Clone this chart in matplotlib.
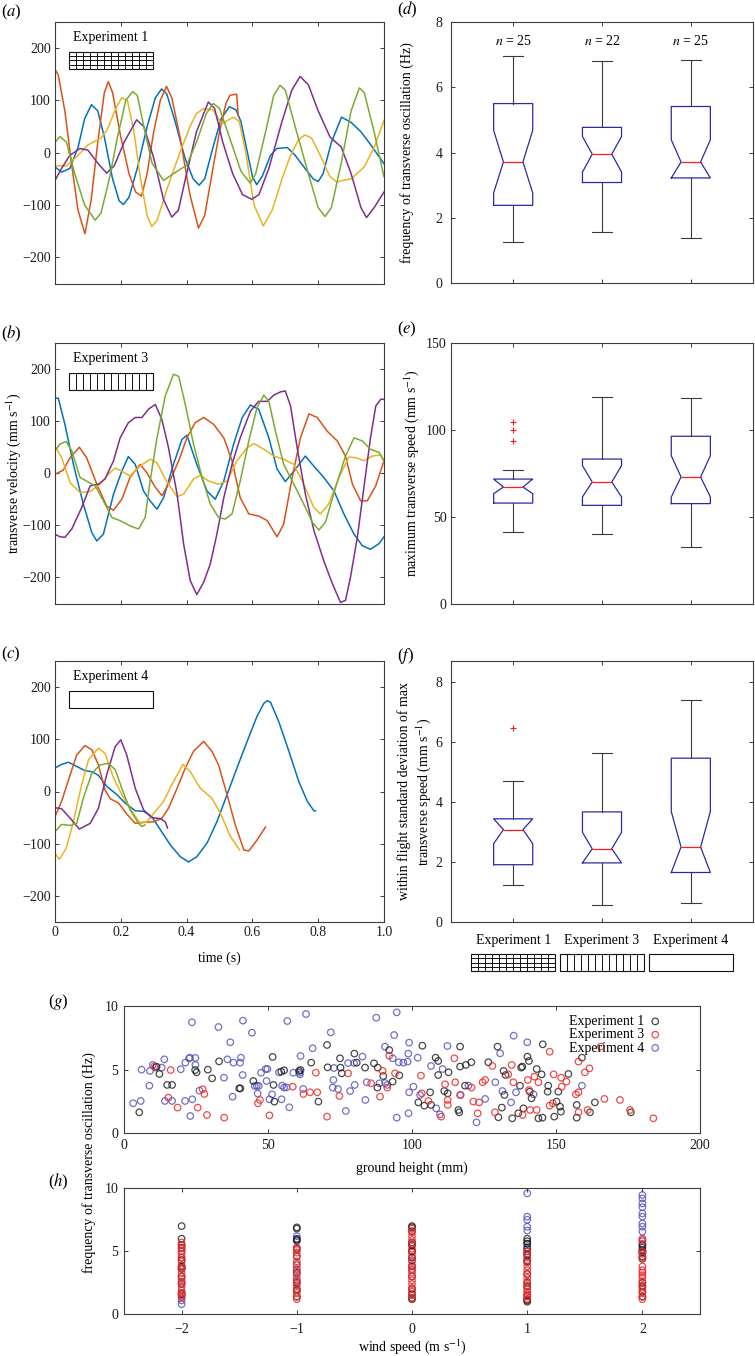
import numpy as np
import matplotlib
matplotlib.use('Agg')
import matplotlib.pyplot as plt
from matplotlib.patches import Rectangle
from matplotlib.transforms import blended_transform_factory

# ---- time series (panels a-c): time (s), transverse velocity (mm/s) ----
a_blue_t = [0, 0.02, 0.045, 0.07, 0.09, 0.111, 0.13, 0.15, 0.175, 0.195, 0.208, 0.225, 0.25, 0.28, 0.305,
            0.324, 0.34, 0.365, 0.395, 0.42, 0.438, 0.455, 0.48, 0.505, 0.53, 0.55, 0.565, 0.585, 0.6, 0.613,
            0.63, 0.655, 0.674, 0.706, 0.73, 0.76, 0.785, 0.80, 0.815, 0.84, 0.871, 0.9, 0.93, 0.96, 1.0]
a_blue_v = [-27, -37, -30, 10, 65, 92, 80, 30, -50, -92, -99, -85, -30, 50, 105,
            122, 112, 60, -10, -50, -62, -50, 10, 65, 88, 82, 60, 0, -45, -61,
            -45, -5, 8, 10, -5, -30, -50, -55, -40, 20, 68, 58, 40, 15, -21]
a_red_t = [0, 0.01, 0.03, 0.05, 0.07, 0.091, 0.11, 0.13, 0.15, 0.162, 0.175, 0.2, 0.225, 0.245, 0.263,
           0.28, 0.3, 0.32, 0.339, 0.355, 0.38, 0.41, 0.436, 0.455, 0.48, 0.5, 0.52, 0.532, 0.552, 0.557]
a_red_v = [160, 148, 80, -20, -110, -155, -90, 20, 115, 136, 115, 30, -40, -75, -83,
           -40, 40, 100, 127, 105, 30, -80, -144, -120, -30, 40, 95, 110, 112, 70]
a_yellow_t = [0, 0.035, 0.07, 0.1, 0.14, 0.16, 0.185, 0.203, 0.22, 0.24, 0.26, 0.28, 0.294, 0.31, 0.34,
              0.38, 0.41, 0.43, 0.451, 0.48, 0.507, 0.525, 0.542, 0.56, 0.58, 0.605, 0.633, 0.66, 0.69, 0.714,
              0.74, 0.76, 0.78, 0.81, 0.835, 0.856, 0.88, 0.9, 0.94, 0.97, 1.0]
a_yellow_v = [-25, -25, -5, 15, 28, 46, 85, 105, 100, 40, -50, -120, -141, -130, -70,
              1, 50, 75, 84, 82, 55, 62, 68, 60, 0, -100, -140, -110, -50, -8,
              25, 34, 28, -10, -45, -56, -52, -50, -27, 10, 62]
a_green_t = [0, 0.015, 0.035, 0.06, 0.09, 0.122, 0.14, 0.165, 0.19, 0.215, 0.236, 0.25, 0.27, 0.295, 0.33,
             0.36, 0.4, 0.43, 0.46, 0.481, 0.5, 0.53, 0.565, 0.593, 0.61, 0.64, 0.665, 0.684, 0.70, 0.73,
             0.77, 0.8, 0.821, 0.84, 0.87, 0.9, 0.925, 0.94, 0.97, 1.0]
a_green_v = [20, 31, 20, -40, -100, -129, -115, -50, 30, 100, 117, 110, 50, -20, -53,
             -40, -24, 20, 75, 94, 85, 30, -35, -58, -40, 40, 110, 129, 120, 50,
             -40, -105, -122, -105, -20, 80, 124, 115, 40, -46]
a_purple_t = [0, 0.02, 0.045, 0.076, 0.1, 0.13, 0.157, 0.18, 0.21, 0.248, 0.27, 0.3, 0.33, 0.355, 0.375,
              0.4, 0.43, 0.466, 0.485, 0.51, 0.54, 0.57, 0.598, 0.62, 0.65, 0.69, 0.72, 0.745, 0.77, 0.8,
              0.836, 0.87, 0.9, 0.93, 0.947, 0.97, 1.0]
a_purple_v = [-53, -30, -5, 8, 5, -20, -39, -25, 20, 63, 50, -10, -90, -123, -110,
              -40, 40, 97, 85, 20, -40, -80, -89, -80, -30, 60, 120, 146, 130, 80,
              30, 11, -40, -105, -124, -105, -75]

b_blue_t = [0, 0.01, 0.03, 0.056, 0.086, 0.112, 0.127, 0.147, 0.178, 0.203, 0.223, 0.244, 0.269, 0.289, 0.31,
            0.33, 0.36, 0.386, 0.401, 0.431, 0.462, 0.487, 0.513, 0.543, 0.569, 0.594, 0.619, 0.65, 0.675, 0.70,
            0.726, 0.761, 0.782, 0.817, 0.848, 0.878, 0.909, 0.934, 0.959, 0.985, 1.0]
b_blue_v = [144, 144, 94, 17, -59, -114, -130, -117, -40, 4, 32, 17, -34, -53, -69,
            -47, 17, 65, 73, 17, -34, -50, -15, 56, 107, 131, 123, 68, 8, -16,
            4, 33, 17, -8, -34, -78, -117, -139, -146, -135, -122]
b_red_t = [0, 0.025, 0.046, 0.074, 0.096, 0.127, 0.157, 0.178, 0.203, 0.228, 0.259, 0.279, 0.305, 0.325, 0.345,
           0.376, 0.401, 0.426, 0.452, 0.482, 0.513, 0.538, 0.563, 0.589, 0.619, 0.645, 0.675, 0.695, 0.721, 0.746,
           0.772, 0.797, 0.827, 0.858, 0.883, 0.904, 0.929, 0.949, 0.975, 1.0]
b_red_v = [-2, 6, 30, 50, 30, -21, -63, -71, -50, -8, 17, 1, -27, -43, -21,
           24, 68, 97, 107, 94, 68, 24, -47, -78, -82, -91, -122, -98, -8, 68,
           114, 107, 81, 62, 33, -21, -53, -53, -24, 24]
b_yellow_t = [0, 0.02, 0.046, 0.076, 0.107, 0.137, 0.162, 0.183, 0.203, 0.228, 0.259, 0.289, 0.31, 0.335, 0.371,
              0.391, 0.421, 0.442, 0.467, 0.497, 0.523, 0.553, 0.584, 0.604, 0.635, 0.665, 0.695, 0.726, 0.756, 0.787,
              0.807, 0.832, 0.863, 0.893, 0.914, 0.939, 0.964, 0.99, 1.0]
b_yellow_v = [52, 30, -18, -37, -35, -21, -2, 10, 4, -5, 14, 27, 20, -11, -45,
              -40, -11, -4, -15, -21, -15, 24, 49, 57, 46, 33, 27, 17, -21, -66,
              -78, -59, -8, 31, 30, 24, 33, 35, 22]
b_green_t = [0, 0.015, 0.034, 0.051, 0.076, 0.096, 0.122, 0.147, 0.173, 0.198, 0.228, 0.254, 0.274, 0.289, 0.31,
             0.335, 0.36, 0.376, 0.396, 0.421, 0.447, 0.472, 0.497, 0.518, 0.538, 0.563, 0.589, 0.614, 0.635, 0.65,
             0.67, 0.695, 0.726, 0.756, 0.782, 0.802, 0.822, 0.853, 0.883, 0.909, 0.934, 0.959, 0.985, 1.0]
b_green_v = [43, 56, 61, 43, -8, -15, -24, -53, -85, -91, -101, -107, -85, -15, 68,
             148, 190, 186, 132, 56, -8, -59, -85, -88, -78, -15, 62, 126, 150, 138,
             81, 17, -21, -59, -94, -109, -94, -27, 33, 68, 62, 46, 40, 24]
b_purple_t = [0, 0.015, 0.03, 0.051, 0.081, 0.107, 0.132, 0.152, 0.178, 0.198, 0.223, 0.244, 0.264, 0.284, 0.305,
              0.325, 0.345, 0.371, 0.391, 0.411, 0.431, 0.452, 0.472, 0.492, 0.513, 0.538, 0.563, 0.594, 0.619, 0.645,
              0.665, 0.685, 0.70, 0.716, 0.736, 0.761, 0.787, 0.817, 0.843, 0.868, 0.883, 0.898, 0.919, 0.939, 0.959,
              0.975, 0.99, 1.0]
b_purple_v = [-117, -122, -123, -107, -66, -24, -21, -11, 24, 68, 97, 107, 107, 123, 132,
              103, 49, -40, -136, -206, -233, -209, -174, -117, -47, 17, 68, 119, 138, 138,
              150, 156, 158, 129, 49, -40, -110, -168, -212, -248, -244, -200, -123, -27, 68,
              129, 142, 142]

c_blue_t = [0, 0.02, 0.041, 0.066, 0.091, 0.112, 0.132, 0.157, 0.188, 0.213, 0.244, 0.269, 0.294, 0.32, 0.35,
            0.381, 0.406, 0.431, 0.462, 0.492, 0.523, 0.553, 0.584, 0.614, 0.635, 0.645, 0.655, 0.68, 0.711, 0.741,
            0.767, 0.787, 0.792]
c_blue_v = [45, 52, 56, 48, 40, 38, 31, 10, -6, -22, -37, -38, -48, -73, -102,
            -125, -135, -125, -99, -58, -6, 45, 96, 144, 169, 174, 171, 134, 77, 19,
            -19, -37, -37]
c_red_t = [0, 0.02, 0.041, 0.066, 0.091, 0.112, 0.132, 0.152, 0.168, 0.193, 0.218, 0.244, 0.269, 0.3, 0.325,
           0.345, 0.371, 0.396, 0.421, 0.452, 0.477, 0.497, 0.523, 0.548, 0.574, 0.589, 0.614, 0.64]
c_red_v = [-48, -19, 22, 70, 88, 80, 51, 3, -14, -22, -43, -61, -59, -58, -51,
           -32, 6, 45, 77, 96, 77, 51, -6, -64, -112, -114, -93, -68]
c_yellow_t = [0, 0.013, 0.034, 0.056, 0.081, 0.102, 0.132, 0.152, 0.178, 0.203, 0.234, 0.259, 0.279, 0.305, 0.33,
              0.355, 0.389, 0.411, 0.442, 0.477, 0.503, 0.533, 0.561]
c_yellow_v = [-118, -130, -109, -58, 13, 61, 83, 73, 26, -6, -38, -61, -58, -38, -19,
              13, 52, 38, 6, -13, -42, -86, -112]
c_green_t = [0, 0.02, 0.046, 0.066, 0.086, 0.112, 0.137, 0.162, 0.183, 0.203, 0.228, 0.254, 0.264, 0.274]
c_green_v = [-77, -63, -65, -61, -13, 35, 51, 54, 42, 6, -35, -61, -67, -64]
c_purple_t = [0, 0.02, 0.046, 0.074, 0.107, 0.132, 0.157, 0.183, 0.2, 0.218, 0.244, 0.269, 0.294, 0.32, 0.335, 0.342]
c_purple_v = [-31, -33, -51, -72, -61, -32, 32, 86, 99, 70, 6, -35, -50, -52, -58, -70]

# ---- box plot summaries (d-f), one entry per experiment ----
exp_labels = ['Experiment 1', 'Experiment 3', 'Experiment 4']
n_flights = [25, 22, 25]
d_whislo = [1.26, 1.55, 1.37]
d_q1 = [2.38, 3.08, 3.22]
d_cilo = [2.76, 3.40, 3.22]
d_med = [3.71, 3.95, 3.71]
d_cihi = [4.68, 4.49, 4.39]
d_q3 = [5.50, 4.77, 5.41]
d_whishi = [6.95, 6.79, 6.82]
d_fliers = [[], [], []]

e_whislo = [41.4, 40.4, 32.8]
e_q1 = [58.0, 56.7, 57.7]
e_cilo = [63.4, 61.5, 61.5]
e_med = [67.2, 70.1, 73.0]
e_cihi = [71.8, 79.5, 85.2]
e_q3 = [71.8, 83.3, 96.4]
e_whishi = [77.2, 118.8, 118.4]
e_fliers = [[93.9, 100.2, 104.6], [], []]

f_whislo = [1.22, 0.57, 0.62]
f_q1 = [1.91, 1.97, 1.65]
f_cilo = [2.61, 1.97, 1.65]
f_med = [3.08, 2.44, 2.50]
f_cihi = [3.44, 2.99, 3.68]
f_q3 = [3.44, 3.67, 5.46]
f_whishi = [4.70, 5.63, 7.40]
f_fliers = [[6.47], [], []]

# ---- scatter (g): ground height (mm) vs frequency (Hz) ----
g_black_h = [5.3, 11.3, 12.3, 15.0, 16.7, 24.7, 25.2, 29.1, 30.6, 33.0, 40.0, 40.4, 44.9, 51.6, 51.9, 52.2, 54.6,
             55.6, 60.8, 61.3, 65.0, 67.5, 70.5, 70.7, 75.0, 75.2, 75.6, 80.0, 80.8, 83.7, 86.8, 88.1, 90.0, 92.1,
             93.3, 95.6, 88.0, 103.6, 106.3, 108.2, 109.1, 109.1, 112.7, 102.2, 104.3, 106.6, 111.2, 112.4, 116.7,
             116.1, 116.4, 116.7, 118.7, 120.6, 118.4, 126.5, 129.7, 130.0, 131.2, 131.8, 132.1, 132.5, 134.8,
             136.9, 137.5, 137.9, 138.3, 138.7, 140.1, 140.6, 140.9, 141.5, 143.3, 143.9, 145.0, 145.3, 145.4,
             147.1, 147.3, 149.4, 150.2, 150.8, 151.4, 151.7, 154.3, 157.2, 157.2, 159.0, 161.8, 163.5, 176.0]
g_black_f = [1.65, 5.24, 4.66, 3.8, 3.8, 4.97, 4.79, 5.0, 4.32, 5.65, 3.53, 3.53, 4.11, 6.0, 3.8, 2.49, 4.84,
             4.95, 4.9, 4.97, 5.55, 2.49, 6.94, 5.18, 5.89, 5.16, 4.71, 6.26, 5.55, 5.16, 5.5, 5.16, 4.5, 6.54,
             4.06, 4.55, 3.59, 6.88, 3.22, 5.94, 5.68, 4.58, 4.79, 2.43, 2.17, 2.23, 3.32, 3.14, 6.81,
             1.83, 1.65, 5.24, 5.37, 5.58, 3.74, 5.58, 6.81, 1.26, 2.02, 4.9, 3.01, 4.58, 1.18,
             1.57, 3.74, 5.16, 5.24, 1.96, 6.02, 5.68, 3.27, 2.75, 5.05, 1.18, 4.63, 1.23, 6.99,
             3.27, 3.74, 1.31, 2.49, 3.27, 2.09, 1.7, 4.66, 2.23, 1.23, 5.94, 1.65, 2.43, 1.65]
g_red_h = [10.5, 16.2, 15.4, 18.6, 25.6, 27.3, 27.9, 28.8, 34.8, 46.5, 47.2, 50.5, 58.6, 62.3, 64.6, 66.6, 67.1,
           70.5, 74.8, 77.8, 85.8, 88.9, 89.8, 91.4, 92.1, 94.1, 103.1, 103.4, 105.7, 110.1, 111.5, 112.4, 112.4,
           114.7, 115.0, 116.7, 120.7, 121.3, 122.8, 123.3, 124.5, 125.4, 127.9, 128.8, 133.4, 134.6, 135.2,
           138.4, 140.2, 140.6, 142.5, 143.9, 141.0, 143.3, 147.8, 147.8, 148.9, 149.2, 151.8, 152.0, 153.6,
           156.9, 157.8, 157.8, 157.8, 160.0, 161.6, 161.0, 165.6, 166.8, 172.2, 175.7, 183.8]
g_red_f = [5.24, 4.97, 2.8, 2.02, 2.02, 3.46, 3.09, 1.44, 1.23, 2.36, 2.62, 1.41, 3.66, 3.09, 3.22, 4.76, 3.22,
           1.31, 2.93, 4.71, 3.93, 2.88, 4.9, 3.59, 6.1, 4.71, 4.53, 3.14, 2.54, 1.31, 3.85, 2.62, 2.23,
           5.89, 4.01, 3.01, 3.59, 2.49, 1.57, 2.43, 4.01, 4.19, 5.29, 1.65, 4.63, 5.37, 4.01,
           1.44, 4.19, 3.4, 4.45, 4.01, 1.83, 1.83, 6.41, 2.17, 2.36, 4.63, 4.37, 3.66, 4.06,
           3.06, 3.22, 1.65, 5.63, 4.79, 5.1, 1.83, 6.81, 2.7, 2.62, 1.83, 1.18]
g_blue_h = [3.2, 5.8, 6.1, 8.8, 9.0, 10.0, 11.0, 13.1, 14.0, 14.2, 16.7, 19.7, 21.2, 21.3, 22.6, 22.9, 23.6, 23.7,
            23.0, 24.8, 24.8, 26.2, 32.8, 34.7, 35.9, 36.9, 37.7, 38.0, 40.3, 40.6, 41.2, 41.3, 44.4, 45.4, 46.1,
            46.4, 46.8, 47.6, 49.2, 49.5, 49.8, 50.5, 51.4, 53.8, 54.7, 54.9, 55.6, 56.4, 56.7, 57.4, 58.8, 60.9,
            61.1, 61.3, 62.2, 63.2, 65.5, 71.8, 72.5, 72.7, 72.9, 74.3, 77.0, 77.8, 78.5, 79.9, 80.1, 82.8, 83.8,
            84.3, 87.6, 88.7, 90.6, 90.7, 91.4, 93.3, 93.8, 94.7, 94.7, 95.4, 97.0, 98.5, 98.7, 99.0, 99.0, 98.8,
            102.0, 106.6, 112.3, 110.6, 100.5, 102.8, 108.4, 109.7, 116.9, 119.6, 122.4, 125.4, 128.9, 130.6,
            131.4, 135.3, 136.1, 134.4, 140.0, 142.2, 159.0]
g_blue_f = [2.36, 2.54, 5.0, 3.74, 4.9, 5.37, 5.16, 5.16, 5.81, 2.54, 2.54, 5.03, 2.54, 5.55, 5.89, 5.94, 8.72, 2.67,
            1.36, 5.92, 5.37, 3.35, 8.35, 4.37, 5.81, 7.15, 2.88, 5.55, 5.55, 5.94, 4.58, 8.85, 7.9, 3.72, 3.74,
            3.12, 3.72, 4.76, 5.05, 4.11, 5.05, 2.67, 3.06, 4.79, 2.67, 3.74, 3.59, 3.61, 8.82, 2.04, 4.76, 4.76,
            4.63, 6.07, 3.48, 9.37, 6.68, 7.93, 3.59, 4.19, 5.13, 3.48, 1.75, 5.52, 3.32, 5.52, 3.8, 6.02, 2.62,
            4.01, 9.08, 3.93, 6.81, 3.95, 3.8, 5.89, 7.72, 9.5, 1.23, 5.58, 5.55, 5.63, 6.26, 7.12, 3.22, 1.57,
            5.94, 5.29, 6.86, 5.05, 3.66, 3.01, 1.96, 1.49, 3.01, 3.74, 0.86, 2.7, 4.01, 6.28,
            3.32, 7.67, 3.22, 2.43, 7.15, 3.06, 3.74]

# ---- scatter (h): frequency (Hz) grouped by wind speed (m/s) ----
wind_levels = [-2, -1, 0, 1, 2]
h_black_f = [[7.0, 6.0, 5.5, 5.3, 4.3, 3.8, 3.6, 3.0, 2.4, 1.6],
             [6.9, 6.8, 6.0, 5.9, 5.2, 4.6, 3.3, 2.5, 1.9, 1.4],
             [7.0, 6.9, 6.6, 5.7, 5.5, 5.0, 4.5, 3.8, 3.0, 2.0, 1.6, 1.3, 1.2],
             [6.0, 5.8, 5.6, 5.3, 5.0, 4.7, 4.2, 3.2, 2.5, 2.2, 1.5, 1.2, 1.1, 1.0],
             [5.5, 5.3, 5.1, 4.9, 4.6, 4.4, 2.5, 2.2, 1.8, 1.4]]
h_red_f = [[5.7, 5.5, 5.2, 5.0, 4.8, 4.5, 4.2, 3.9, 3.6, 3.3, 3.0, 2.8, 2.5, 2.2, 1.9, 1.7, 1.5, 1.3],
           [5.3, 5.1, 4.9, 4.6, 4.2, 3.9, 3.6, 3.2, 2.9, 2.6, 2.3, 2.0, 1.7, 1.4, 1.2],
           [6.8, 6.5, 6.2, 5.9, 5.6, 5.2, 4.9, 4.6, 4.2, 3.9, 3.6, 3.3, 3.0, 2.7, 2.4, 2.1, 1.8, 1.5, 1.2],
           [5.0, 4.8, 4.5, 4.1, 3.8, 3.5, 3.2, 2.9, 2.6, 2.3, 2.0, 1.8, 1.6, 1.4, 1.2],
           [6.0, 5.8, 5.0, 4.8, 4.5, 3.8, 3.5, 3.3, 3.1, 2.9, 2.6, 2.3, 2.0, 1.7, 1.4, 1.2]]
h_blue_f = [[5.0, 4.5, 3.7, 2.6, 1.7, 1.4, 1.1, 0.8],
            [6.2, 5.9, 5.8, 4.0, 3.5, 2.7, 2.0],
            [5.5, 5.0, 4.3, 3.5],
            [9.6, 7.75, 7.5, 6.95, 6.65, 5.6, 5.2, 4.8, 4.3],
            [9.47, 9.2, 8.8, 8.5, 8.0, 7.75, 7.2, 6.95, 6.56, 5.9, 5.6, 5.0]]

# ---- style ----
plt.rcParams['font.family'] = ['Liberation Serif', 'DejaVu Serif']
plt.rcParams['mathtext.fontset'] = 'stix'
plt.rcParams['font.size'] = 10
plt.rcParams['axes.linewidth'] = 0.8
plt.rcParams['axes.edgecolor'] = '#3c3c3c'
plt.rcParams['xtick.direction'] = 'in'
plt.rcParams['ytick.direction'] = 'in'
plt.rcParams['xtick.top'] = True
plt.rcParams['ytick.right'] = True
plt.rcParams['xtick.major.size'] = 3
plt.rcParams['ytick.major.size'] = 3
plt.rcParams['xtick.major.width'] = 0.7
plt.rcParams['ytick.major.width'] = 0.7
plt.rcParams['xtick.color'] = '#3c3c3c'
plt.rcParams['ytick.color'] = '#3c3c3c'
plt.rcParams['xtick.labelcolor'] = '#1a1a1a'
plt.rcParams['ytick.labelcolor'] = '#1a1a1a'
plt.rcParams['lines.solid_joinstyle'] = 'round'

col_blue = '#0072BD'
col_red = '#D95319'
col_yellow = '#EDB120'
col_purple = '#7E2F8E'
col_green = '#77AC30'

W, H = 755, 1356
fig = plt.figure(figsize=(W / 100, H / 100), dpi=100)


def add_ax(left, top, right, bottom):
    return fig.add_axes([left / W, 1 - bottom / H, (right - left) / W, (bottom - top) / H])


def ftext(x, y, s, **kw):
    fig.text(x / W, 1 - y / H, s, **kw)


def pattern_box(ax, x0, y0, w, h, kind, transform):
    ax.add_patch(Rectangle((x0, y0), w, h, fill=False, lw=0.8, ec='#111111',
                           transform=transform, clip_on=False))
    if kind in ('grid', 'vlines'):
        for i in range(1, 12):
            xx = x0 + w * i / 12
            ax.plot([xx, xx], [y0, y0 + h], color='#111111', lw=0.7, transform=transform, clip_on=False)
    if kind == 'grid':
        for j in range(1, 4):
            yy = y0 + h * j / 4
            ax.plot([x0, x0 + w], [yy, yy], color='#111111', lw=0.7, transform=transform, clip_on=False)


# ---- panels a-c ----
series = [
    [(a_blue_t, a_blue_v, col_blue), (a_red_t, a_red_v, col_red), (a_yellow_t, a_yellow_v, col_yellow),
     (a_purple_t, a_purple_v, col_purple), (a_green_t, a_green_v, col_green)],
    [(b_blue_t, b_blue_v, col_blue), (b_red_t, b_red_v, col_red), (b_yellow_t, b_yellow_v, col_yellow),
     (b_purple_t, b_purple_v, col_purple), (b_green_t, b_green_v, col_green)],
    [(c_blue_t, c_blue_v, col_blue), (c_red_t, c_red_v, col_red), (c_yellow_t, c_yellow_v, col_yellow),
     (c_purple_t, c_purple_v, col_purple), (c_green_t, c_green_v, col_green)],
]
ts_rows = [(22, 283.5), (343, 603.5), (661, 922)]
ts_titles = ['Experiment 1', 'Experiment 3', 'Experiment 4']
ts_kinds = ['grid', 'vlines', 'none']
for k in range(3):
    top, bot = ts_rows[k]
    ax = add_ax(55, top, 384, bot)
    for t, v, c in series[k]:
        ax.plot(t, v, color=c, lw=1.1)
    ax.set_xlim(0, 1)
    ax.set_ylim(-250, 250)
    ax.set_yticks([-200, -100, 0, 100, 200])
    ax.set_xticks([0, 0.2, 0.4, 0.6, 0.8, 1.0])
    ax.tick_params(axis='y', pad=3)
    ax.tick_params(axis='x', pad=3)
    if k < 2:
        ax.set_xticklabels([])
    else:
        ax.set_xticklabels(['0', '0.2', '0.4', '0.6', '0.8', '1.0'])
    ax.text(0.054, 0.94, ts_titles[k], transform=ax.transAxes, ha='left', va='center', fontsize=10)
    pattern_box(ax, 0.043, 0.82, 0.255, 0.066, ts_kinds[k], ax.transAxes)

ftext(14, 473, 'transverse velocity (mm s$^{-1}$)', rotation=90, ha='center', va='center')
ftext(219.5, 958, 'time (s)', ha='center', va='center')

# ---- panels d-f ----
positions = [1, 2, 3]


def box_stats(whislo, q1, cilo, med, cihi, q3, whishi, fliers):
    out = []
    for i in range(3):
        out.append(dict(whislo=whislo[i], q1=q1[i], cilo=cilo[i], med=med[i], cihi=cihi[i],
                        q3=q3[i], whishi=whishi[i], fliers=fliers[i]))
    return out


def draw_boxes(ax, stats):
    ax.bxp(stats, positions=positions, widths=0.44, shownotches=True, showfliers=True,
           manage_ticks=False,
           boxprops=dict(color='#2a2aa8', lw=0.9),
           medianprops=dict(color='#ff1a1a', lw=0.9),
           whiskerprops=dict(color='#3a3a3a', lw=0.8, ls='-'),
           capprops=dict(color='#3a3a3a', lw=0.8),
           flierprops=dict(marker='+', markeredgecolor='#ff1a1a', markersize=5, markeredgewidth=0.8,
                           linestyle='none'))
    ax.set_xlim(0.3, 3.7)
    ax.set_xticks(positions)
    ax.set_xticklabels([])


ax_d = add_ax(451, 22, 753, 283)
draw_boxes(ax_d, box_stats(d_whislo, d_q1, d_cilo, d_med, d_cihi, d_q3, d_whishi, d_fliers))
ax_d.set_ylim(0, 8)
ax_d.set_yticks([0, 2, 4, 6, 8])
ax_d.tick_params(axis='y', pad=6)
for p, n in zip(positions, n_flights):
    ax_d.text(p, 7.42, '$n$ = %d' % n, ha='center', va='center', fontsize=10)

ax_e = add_ax(451, 343, 753, 604)
draw_boxes(ax_e, box_stats(e_whislo, e_q1, e_cilo, e_med, e_cihi, e_q3, e_whishi, e_fliers))
ax_e.set_ylim(0, 150)
ax_e.set_yticks([0, 50, 100, 150])
ax_e.tick_params(axis='y', pad=3)

ax_f = add_ax(451, 661, 753, 922)
draw_boxes(ax_f, box_stats(f_whislo, f_q1, f_cilo, f_med, f_cihi, f_q3, f_whishi, f_fliers))
ax_f.set_ylim(0, 8.7)
ax_f.set_yticks([0, 2, 4, 6, 8])
ax_f.tick_params(axis='y', pad=6)
tr = blended_transform_factory(ax_f.transData, ax_f.transAxes)
for p, lab, kind in zip(positions, exp_labels, ts_kinds):
    ax_f.text(p, -0.069, lab, transform=tr, ha='center', va='center', fontsize=10, clip_on=False)
    pattern_box(ax_f, p - 0.475, -0.188, 0.95, 0.065, kind, tr)

ftext(407, 152.5, 'frequency of transverse oscillation (Hz)', rotation=90, ha='center', va='center')
ftext(412, 473.5, 'maximum transverse speed (mm s$^{-1}$)', rotation=90, ha='center', va='center')
ftext(415, 791.5, 'within flight standard deviation of max\ntransverse speed (mm s$^{-1}$)',
      rotation=90, ha='center', va='center', multialignment='center', linespacing=1.25)

# ---- panels g-h ----
sc_black = (0.1, 0.1, 0.1, 0.8)
sc_red = (0.93, 0.17, 0.17, 0.85)
sc_blue = (0.30, 0.30, 0.72, 0.8)
ms = 22

ax_g = add_ax(124, 1006, 700, 1133.3)
hb = ax_g.scatter(g_blue_h, g_blue_f, s=ms, facecolors='none', edgecolors=[sc_blue], linewidths=0.9)
hk = ax_g.scatter(g_black_h, g_black_f, s=ms, facecolors='none', edgecolors=[sc_black], linewidths=0.9)
hr = ax_g.scatter(g_red_h, g_red_f, s=ms, facecolors='none', edgecolors=[sc_red], linewidths=0.9)
ax_g.set_xlim(0, 200)
ax_g.set_ylim(0, 10)
ax_g.set_xticks([0, 50, 100, 150, 200])
ax_g.set_yticks([0, 5, 10])
ax_g.tick_params(axis='x', pad=4)
ax_g.tick_params(axis='y', pad=4)
ax_g.legend([hk, hr, hb], exp_labels, loc='upper right', bbox_to_anchor=(0.95, 1.0), frameon=False,
            markerfirst=False, handletextpad=0.3, labelspacing=0.02, borderpad=0.15, handlelength=1.0,
            fontsize=10)

ax_h = add_ax(124, 1188.3, 700, 1314.3)
for freqs, col in [(h_blue_f, sc_blue), (h_black_f, sc_black), (h_red_f, sc_red)]:
    xs = np.repeat(wind_levels, [len(f) for f in freqs])
    ys = np.concatenate(freqs)
    ax_h.scatter(xs, ys, s=ms, facecolors='none', edgecolors=[col], linewidths=0.9)
ax_h.set_xlim(-2.5, 2.5)
ax_h.set_ylim(0, 10)
ax_h.set_xticks(wind_levels)
ax_h.set_yticks([0, 5, 10])
ax_h.tick_params(axis='x', pad=6)
ax_h.tick_params(axis='y', pad=4)

ftext(412, 1168, 'ground height (mm)', ha='center', va='center')
ftext(412, 1347, 'wind speed (m s$^{-1}$)', ha='center', va='center')
ftext(89, 1163, 'frequency of transverse oscillation (Hz)', rotation=90, ha='center', va='center')

# ---- panel letters ----
for lab, x, y in [('a', 1, 12), ('b', 1, 334), ('c', 1, 654), ('d', 397, 10), ('e', 397, 329),
                  ('f', 397, 656), ('g', 48, 1002), ('h', 48, 1182)]:
    ftext(x, y, '($%s$)' % lab, ha='left', va='center', fontsize=12)

fig.savefig('out.png', dpi=100)
